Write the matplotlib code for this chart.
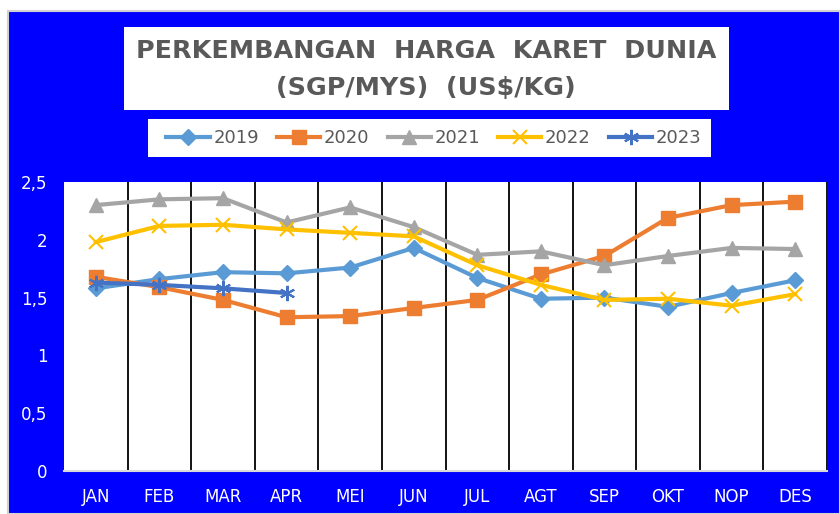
import numpy as np
import matplotlib
matplotlib.use('Agg')
from matplotlib import pyplot as plt
from matplotlib.patches import Rectangle

# Data (US$/kg)
months = ['JAN', 'FEB', 'MAR', 'APR', 'MEI', 'JUN', 'JUL', 'AGT', 'SEP', 'OKT', 'NOP', 'DES']
y2019 = [1.58, 1.66, 1.72, 1.71, 1.76, 1.93, 1.67, 1.49, 1.50, 1.42, 1.54, 1.65]
y2020 = [1.68, 1.59, 1.48, 1.33, 1.34, 1.41, 1.48, 1.70, 1.86, 2.19, 2.30, 2.33]
y2021 = [2.30, 2.35, 2.36, 2.15, 2.28, 2.11, 1.87, 1.90, 1.78, 1.86, 1.93, 1.92]
y2022 = [1.98, 2.12, 2.13, 2.09, 2.06, 2.03, 1.78, 1.61, 1.48, 1.49, 1.43, 1.53]
y2023 = [1.63, 1.61, 1.58, 1.54]
yticks = [0, 0.5, 1, 1.5, 2, 2.5]
ytick_labels = ['0', '0,5', '1', '1,5', '2', '2,5']

W, H = 840, 514
fig = plt.figure(figsize=(W / 100, H / 100), dpi=100, facecolor='white')

# blue chart background
fig.patches.append(Rectangle((8 / W, 0), (W - 8) / W, (H - 11) / H, transform=fig.transFigure,
                             facecolor='#0000FF', edgecolor='#D0D0D0', linewidth=1.5, zorder=-2))
# title box
fig.patches.append(Rectangle((124 / W, 1 - 110 / H), 605 / W, 83 / H, transform=fig.transFigure,
                             facecolor='white', edgecolor='none', zorder=-1))
# legend box
fig.patches.append(Rectangle((148 / W, 1 - 157 / H), 563 / W, 38 / H, transform=fig.transFigure,
                             facecolor='white', edgecolor='none', zorder=-1))

fig.text(426 / W, 1 - 51 / H, 'PERKEMBANGAN  HARGA  KARET  DUNIA', ha='center', va='center',
         fontsize=18.3, fontweight='bold', color='#595959')
fig.text(426 / W, 1 - 88 / H, '(SGP/MYS)  (US$/KG)', ha='center', va='center',
         fontsize=18.3, fontweight='bold', color='#595959')

ax = fig.add_axes([64 / W, 43 / H, 763 / W, 289 / H])
ax.set_zorder(3)
ax.set_facecolor('white')
x = np.arange(len(months))

ax.plot(x, y2019, color='#5B9BD5', lw=3, marker='D', ms=8, label='2019', zorder=3)
ax.plot(x, y2020, color='#ED7D31', lw=3, marker='s', ms=10, label='2020', zorder=3)
ax.plot(x, y2021, color='#A5A5A5', lw=3, marker='^', ms=10, label='2021', zorder=3)
ax.plot(x, y2022, color='#FFC000', lw=3, marker='x', ms=10, mew=1.5, label='2022', zorder=3)
ax.plot(x[:len(y2023)], y2023, color='#4472C4', lw=3, marker=(6, 2, 0), ms=11, mew=1.5,
        label='2023', zorder=3)

ax.set_xlim(-0.5, 11.5)
ax.set_ylim(0, 2.5)
ax.set_xticks(x)
ax.set_xticklabels(months)
ax.set_xticks(np.arange(0.5, 12, 1), minor=True)
ax.grid(True, which='minor', axis='x', color='black', lw=1.3)
ax.set_yticks(yticks)
ax.set_yticklabels(ytick_labels)
ax.tick_params(axis='both', which='both', length=0, colors='white', labelsize=12)
ax.tick_params(axis='x', pad=12)
ax.tick_params(axis='y', pad=12)
for s in ['top', 'left', 'right']:
    ax.spines[s].set_visible(False)
ax.spines['bottom'].set_color('#D9D9D9')
ax.spines['bottom'].set_linewidth(1.5)

fig.legend(loc='center', bbox_to_anchor=(434 / W, 1 - 138 / H), ncol=5, frameon=False,
           fontsize=13, handlelength=2.4, columnspacing=1.0, handletextpad=0.2,
           labelcolor='#595959')

fig.savefig('out.png', dpi=100, facecolor='white')
